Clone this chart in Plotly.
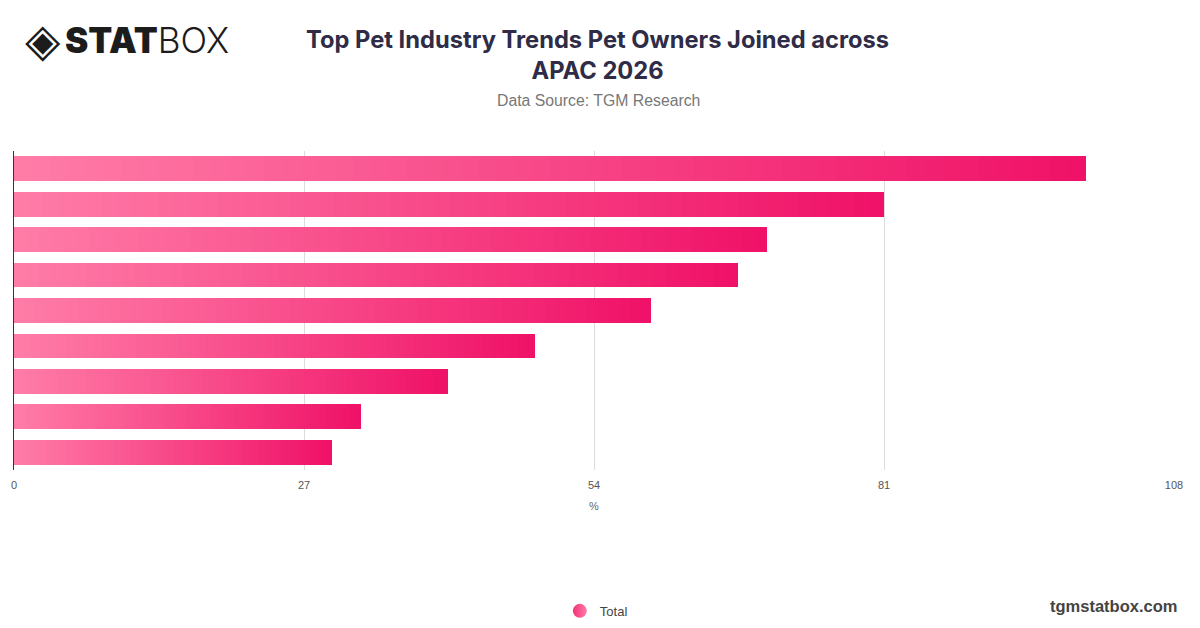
import plotly.graph_objects as go

# bars, top to bottom (no category labels are shown on the chart)
categories = ["Trend 1", "Trend 2", "Trend 3", "Trend 4", "Trend 5",
              "Trend 6", "Trend 7", "Trend 8", "Trend 9"]
total = [99.8, 81.0, 70.1, 67.4, 59.3, 48.5, 40.4, 32.3, 29.6]
tick_vals = [0, 27, 54, 81, 108]

# gradient left -> right, faked with stacked slices of each bar
c_start = (255, 124, 167)
c_stop = (240, 18, 104)
n_slices = 60


def mix(t):
    r, g, b = [round(a + (b_ - a) * t) for a, b_ in zip(c_start, c_stop)]
    return f"rgb({r},{g},{b})"


fig = go.Figure()
for i in range(n_slices):
    fig.add_trace(go.Bar(
        x=[v / n_slices for v in total],
        y=categories,
        orientation="h",
        marker=dict(color=mix(i / (n_slices - 1)), line=dict(width=0)),
        width=0.7,
        showlegend=False,
        hoverinfo="skip",
    ))

# legend entry
fig.add_trace(go.Scatter(
    x=[None], y=[None], mode="markers", name="Total",
    marker=dict(symbol="circle", size=14, color="#f4307a",
                gradient=dict(type="horizontal", color="#ff7ca7")),
))

sans = "Liberation Sans, Arial, sans-serif"

fig.update_layout(
    width=1200, height=628,
    barmode="stack", bargap=0.3,
    plot_bgcolor="white", paper_bgcolor="white",
    margin=dict(l=6, r=34, t=143, b=166),
    font=dict(family=sans, color="#555"),
    title=dict(
        text="<b>Top Pet Industry Trends Pet Owners Joined across<br>APAC 2026</b>",
        x=0.4913, xanchor="center", y=0.936, yanchor="middle",
        font=dict(size=23.7, color="#2e2c47", family="Inter, sans-serif"),
    ),
    legend=dict(orientation="h", x=0.502, xanchor="center",
                yref="container", y=0.040, yanchor="middle",
                font=dict(size=13, color="#444", family=sans)),
    xaxis=dict(range=[0, 108], tickvals=tick_vals, showgrid=True, gridcolor="#dcdcdc",
               zeroline=False, showline=False, ticks="", automargin=False,
               ticklabelstandoff=7,
               tickfont=dict(size=11, color="#555"),
               title=dict(text="%", font=dict(size=11, color="#666"), standoff=12)),
    yaxis=dict(autorange="reversed", showticklabels=False, showgrid=False,
               showline=True, linecolor="#333", linewidth=1, layer="below traces",
               ticks="", automargin=False),
    annotations=[
        dict(text="Data Source: TGM Research", xref="paper", yref="paper",
             x=0.5043, y=1.157, xanchor="center", yanchor="middle", showarrow=False,
             font=dict(size=15.8, color="#777", family=sans)),
        dict(text="◈", xref="paper", yref="paper", x=0.0078, y=1.348,
             xanchor="left", yanchor="middle", showarrow=False,
             font=dict(size=46, color="#1c1c1c", family="DejaVu Sans")),
        dict(text='<span style="font-weight:900">STAT</span>'
                  '<span style="font-weight:300">BOX</span>',
             xref="paper", yref="paper", x=0.0422, y=1.348,
             xanchor="left", yanchor="middle", showarrow=False,
             font=dict(size=35, color="#1c1c1c", family="Inter, DejaVu Sans")),
        dict(text="<b>tgmstatbox.com</b>", xref="paper", yref="paper",
             x=1.004, y=-0.426, xanchor="right", yanchor="middle", showarrow=False,
             font=dict(size=16.5, color="#444", family=sans)),
    ],
)

fig.write_html("out.html")
